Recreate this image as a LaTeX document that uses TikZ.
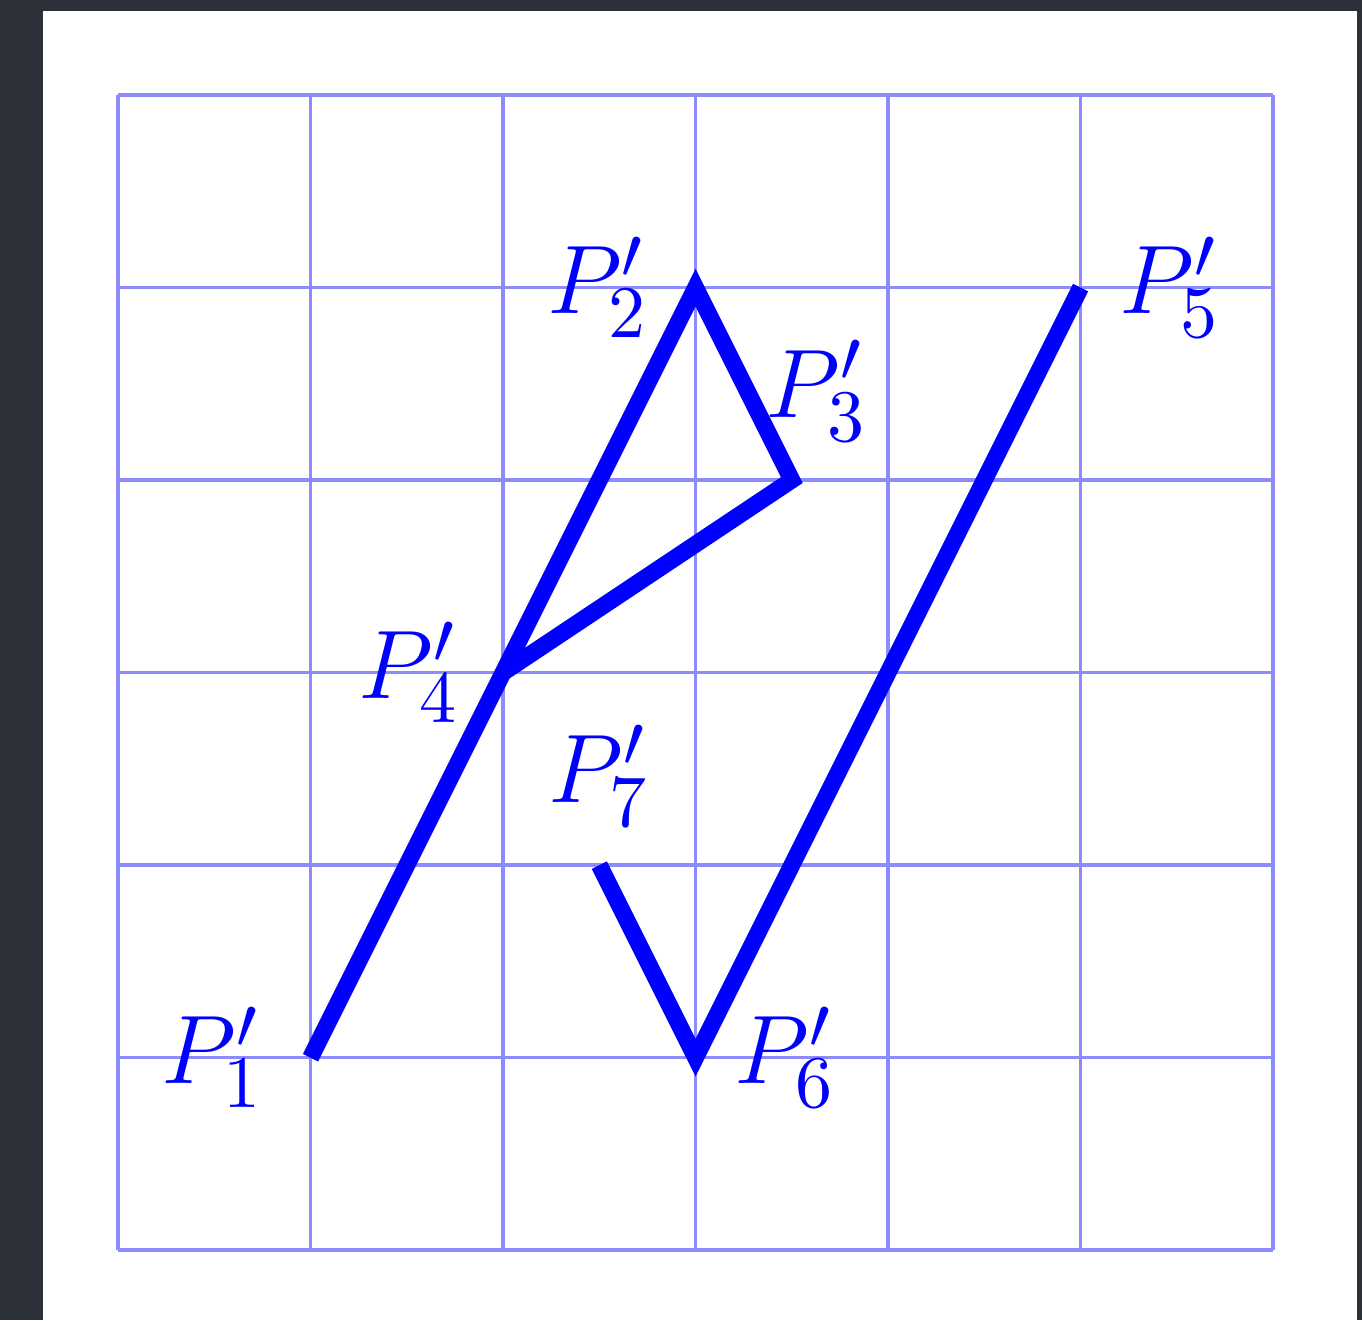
\documentclass[tikz,border=0pt]{standalone}
\usepackage{xcolor}
\usepackage{tikz}
\usetikzlibrary{positioning}
\definecolor{slate}{HTML}{2B3039}
\definecolor{paper}{HTML}{FFFFFF}
\definecolor{gridblue}{HTML}{8C8CFF}
\definecolor{penblue}{HTML}{0000FF}

\begin{document}
\begin{tikzpicture}[
  gridline/.style={line width=0.5pt,color=gridblue},
  seg/.style={line width=2.5pt,color=penblue,line join=miter},
  lbl/.style={text=penblue,inner sep=1pt,font=\fontsize{15.5}{18}\selectfont},
  node distance=2mm
]
\useasboundingbox (-0.613,-0.364) rectangle (6.462,6.494);
\fill[slate] (-0.613,-0.364) rectangle (6.462,6.494);
\fill[paper] (-0.39,-0.364) rectangle (6.436,6.436);
\draw[gridline] (0,0) grid (6,6);
\coordinate (p1) at (1,1);
\coordinate (p2) at (3,5);
\coordinate (p3) at (3.5,4);
\coordinate (p4) at (2,3);
\coordinate (p5) at (5,5);
\coordinate (p6) at (3,1);
\coordinate (p7) at (2.5,2);
\draw[seg] (p1) -- (p2) -- (p3) -- (p4);
\draw[seg] (p5) -- (p6) -- (p7);
\node[lbl,left=of p1] (l1) {$P'_1$};
\node[lbl,left=of p2] (l2) {$P'_2$};
\node[lbl,above=1.6mm of p3,xshift=1.3mm] (l3) {$P'_3$};
\node[lbl,left=1.8mm of p4] (l4) {$P'_4$};
\node[lbl,right=1.6mm of p5] (l5) {$P'_5$};
\node[lbl,right=1.6mm of p6] (l6) {$P'_6$};
\node[lbl,above=1.6mm of p7] (l7) {$P'_7$};
\end{tikzpicture}
\end{document}
